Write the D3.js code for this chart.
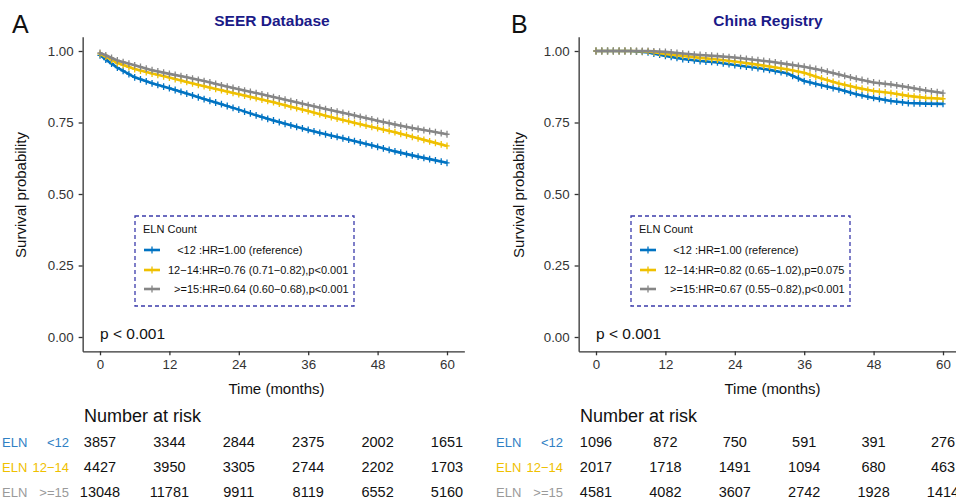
<!DOCTYPE html>
<html>
<head>
<meta charset="utf-8">
<script src="https://cdn.jsdelivr.net/npm/d3@7"></script>
<style>
  body { margin: 0; background: #fff; }
  svg { display: block; font-family: "Liberation Sans", Arial, Helvetica, sans-serif; }
  .axis path, .axis line { stroke: #333; stroke-width: 1.3; }
  .axis text { fill: #333; font-size: 13.3px; font-family: "Liberation Sans", Arial, sans-serif; }
  .legend text { white-space: pre; }
</style>
</head>
<body>
<div id="target"></div>
<script>
// ---- data ----
const groups = ['<12', '12\u221214', '>=15'];
const monthTicks = [0, 12, 24, 36, 48, 60];
const survTicks = [0, 0.25, 0.5, 0.75, 1];

const seerTimes = [0, 1, 3, 6, 9, 12, 15, 18, 21, 24, 27, 30, 33, 36, 39, 42, 45, 48, 51, 54, 57, 60];
const seerLow  = [0.985, 0.970, 0.942, 0.908, 0.887, 0.870, 0.851, 0.832, 0.814, 0.795, 0.775, 0.757, 0.740, 0.724, 0.709, 0.695, 0.680, 0.665, 0.649, 0.635, 0.622, 0.609];
const seerMid  = [0.990, 0.980, 0.958, 0.937, 0.921, 0.907, 0.892, 0.877, 0.863, 0.849, 0.835, 0.821, 0.805, 0.790, 0.774, 0.759, 0.744, 0.730, 0.716, 0.700, 0.684, 0.668];
const seerHigh = [0.993, 0.985, 0.967, 0.950, 0.933, 0.920, 0.908, 0.895, 0.880, 0.866, 0.853, 0.839, 0.825, 0.811, 0.797, 0.784, 0.770, 0.756, 0.743, 0.731, 0.720, 0.709];

const chinaTimes = [0, 3, 6, 9, 12, 15, 18, 21, 24, 27, 30, 33, 36, 39, 42, 45, 48, 51, 54, 57, 60];
const chinaLow  = [1, 1, 1, 0.995, 0.983, 0.972, 0.965, 0.960, 0.951, 0.943, 0.934, 0.922, 0.895, 0.880, 0.866, 0.849, 0.836, 0.825, 0.818, 0.816, 0.815];
const chinaMid  = [1, 1, 1, 0.998, 0.990, 0.983, 0.976, 0.970, 0.963, 0.955, 0.946, 0.936, 0.924, 0.904, 0.886, 0.872, 0.860, 0.853, 0.843, 0.836, 0.833];
const chinaHigh = [1, 1, 1, 1, 0.997, 0.991, 0.986, 0.982, 0.977, 0.970, 0.963, 0.954, 0.945, 0.933, 0.918, 0.903, 0.890, 0.883, 0.873, 0.862, 0.853];

const seerLegend = ['   <12 :HR=1.00 (reference)', '12\u221214:HR=0.76 (0.71\u22120.82),p<0.001', '  >=15:HR=0.64 (0.60\u22120.68),p<0.001'];
const chinaLegend = ['   <12 :HR=1.00 (reference)', '12\u221214:HR=0.82 (0.65\u22121.02),p=0.075', '  >=15:HR=0.67 (0.55\u22120.82),p<0.001'];

const seerRisk = [
  [3857, 3344, 2844, 2375, 2002, 1651],
  [4427, 3950, 3305, 2744, 2202, 1703],
  [13048, 11781, 9911, 8119, 6552, 5160]
];
const chinaRisk = [
  [1096, 872, 750, 591, 391, 276],
  [2017, 1718, 1491, 1094, 680, 463],
  [4581, 4082, 3607, 2742, 1928, 1414]
];

// ---- styles ----
const lineColors = ['#0073C2', '#EFC000', '#868686'];
const labelColors = ['#2f80c4', '#EFC000', '#9a9a9a'];
const titleColor = '#1b1a88';
const boxColor = '#3b3bab';

const width = 956;
const height = 502;

const svg = d3.select('#target')
  .append('svg')
  .attr('width', width)
  .attr('height', height);

svg.append('rect').attr('width', width).attr('height', height).attr('fill', '#fff');

const censorTimes = d3.range(0, 61, 1);
const cross = 'M-2.6,0H2.6M0,-3.4V3.4';

function drawPanel(p) {
  const dx = p.dx;
  const x = d3.scaleLinear().domain([-3, 63]).range([82.65 + dx, 464.35 + dx]);
  const y = d3.scaleLinear().domain([-0.05, 1.05]).range([351.3, 36.7]);

  // panel letter and title
  svg.append('text')
    .attr('x', 12 + dx - p.letterShift).attr('y', 33)
    .attr('font-size', 25).attr('fill', '#111')
    .text(p.letter);
  svg.append('text')
    .attr('x', p.titleX).attr('y', 20)
    .attr('dominant-baseline', 'central')
    .attr('text-anchor', 'middle')
    .attr('font-size', 15.5).attr('font-weight', 'bold')
    .attr('fill', titleColor)
    .text(p.title);

  // axes
  svg.append('g')
    .attr('class', 'axis')
    .attr('transform', `translate(${x(-3)},0)`)
    .call(d3.axisLeft(y).tickValues(survTicks).tickFormat(d3.format('.2f')).tickSize(4).tickPadding(5).tickSizeOuter(0));
  svg.append('g')
    .attr('class', 'axis')
    .attr('transform', `translate(0,${y(-0.05)})`)
    .call(d3.axisBottom(x).tickValues(monthTicks).tickSize(4).tickPadding(4).tickSizeOuter(0));

  svg.append('text')
    .attr('transform', `translate(${20 + dx - p.ylabShift},195) rotate(-90)`)
    .attr('text-anchor', 'middle')
    .attr('dominant-baseline', 'central')
    .attr('font-size', 15).attr('fill', '#111')
    .text('Survival probability');
  svg.append('text')
    .attr('x', (100 + 447) / 2 + dx + 3).attr('y', 388)
    .attr('text-anchor', 'middle')
    .attr('dominant-baseline', 'central')
    .attr('font-size', 15).attr('fill', '#111')
    .text('Time (months)');

  // curves
  const line = d3.line()
    .x((d) => x(d[0]))
    .y((d) => y(d[1]));

  p.series.forEach((vals, i) => {
    const pts = p.times.map((t, k) => [t, vals[k]]);
    svg.append('path')
      .datum(pts)
      .attr('fill', 'none')
      .attr('stroke', lineColors[i])
      .attr('stroke-width', 2.6)
      .attr('stroke-linejoin', 'round')
      .attr('d', line);

    const surv = d3.scaleLinear().domain(p.times).range(vals);
    svg.append('g')
      .selectAll('path')
      .data(censorTimes)
      .enter()
      .append('path')
      .attr('transform', (t) => `translate(${x(t)},${y(surv(t))})`)
      .attr('d', cross)
      .attr('stroke', lineColors[i])
      .attr('stroke-width', 1.3)
      .attr('fill', 'none');
  });

  // p value
  svg.append('text')
    .attr('x', x(0)).attr('y', 333)
    .attr('dominant-baseline', 'central')
    .attr('font-size', 15.5).attr('fill', '#111')
    .text('p < 0.001');

  // legend
  const lg = svg.append('g').attr('class', 'legend');
  lg.append('rect')
    .attr('x', 135 + dx).attr('y', 216)
    .attr('width', 219).attr('height', 90)
    .attr('fill', '#fff')
    .attr('stroke', boxColor)
    .attr('stroke-width', 1.3)
    .attr('stroke-dasharray', '4,3');
  lg.append('text')
    .attr('x', 143 + dx).attr('y', 229)
    .attr('dominant-baseline', 'central')
    .attr('font-size', 11).attr('fill', '#111')
    .text('ELN Count');
  const rowY = [250, 270, 289];
  p.legend.forEach((label, i) => {
    lg.append('line')
      .attr('x1', 144 + dx).attr('x2', 160 + dx)
      .attr('y1', rowY[i]).attr('y2', rowY[i])
      .attr('stroke', lineColors[i]).attr('stroke-width', 2.6);
    lg.append('path')
      .attr('transform', `translate(${152 + dx},${rowY[i]})`)
      .attr('d', cross)
      .attr('stroke', lineColors[i]).attr('stroke-width', 1.3);
    lg.append('text')
      .attr('x', 168 + dx).attr('y', rowY[i])
      .attr('dominant-baseline', 'central')
      .attr('font-size', 11).attr('fill', '#111')
      .text(label);
  });

  // number at risk table
  svg.append('text')
    .attr('x', 84 + dx).attr('y', 416)
    .attr('dominant-baseline', 'central')
    .attr('font-size', 18).attr('fill', '#111')
    .text('Number at risk');
  const riskY = [442, 467, 492];
  p.risk.forEach((row, i) => {
    svg.append('text')
      .attr('x', 2 + dx - p.tableShift).attr('y', riskY[i])
      .attr('dominant-baseline', 'central')
      .attr('font-size', 13).attr('fill', labelColors[i])
      .text('ELN');
    svg.append('text')
      .attr('x', 69 + dx - p.tableShift).attr('y', riskY[i])
      .attr('text-anchor', 'end')
      .attr('dominant-baseline', 'central')
      .attr('font-size', 13).attr('fill', labelColors[i])
      .text(groups[i]);
    svg.append('g')
      .selectAll('text')
      .data(row)
      .enter()
      .append('text')
      .attr('x', (d, k) => x(monthTicks[k]))
      .attr('y', riskY[i])
      .attr('text-anchor', 'middle')
      .attr('dominant-baseline', 'central')
      .attr('font-size', 14.5).attr('fill', '#111')
      .text((d) => d);
  });
}

drawPanel({
  dx: 0, letter: 'A', letterShift: 0, ylabShift: 0, tableShift: 0,
  title: 'SEER Database', titleX: 272,
  times: seerTimes, series: [seerLow, seerMid, seerHigh],
  legend: seerLegend, risk: seerRisk
});
drawPanel({
  dx: 496, letter: 'B', letterShift: -3, ylabShift: -2, tableShift: 2,
  title: 'China Registry', titleX: 768,
  times: chinaTimes, series: [chinaLow, chinaMid, chinaHigh],
  legend: chinaLegend, risk: chinaRisk
});
</script>
</body>
</html>
